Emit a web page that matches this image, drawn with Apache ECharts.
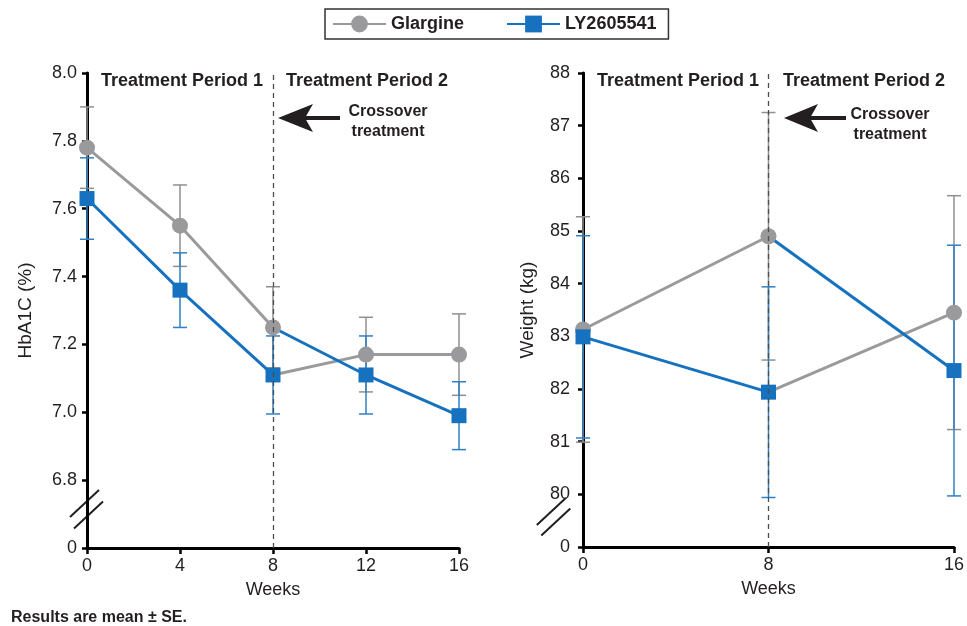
<!DOCTYPE html>
<html>
<head>
<meta charset="utf-8">
<script src="https://cdn.jsdelivr.net/npm/echarts@6/dist/echarts.min.js"></script>
<style>
html, body { margin: 0; padding: 0; background: #fff; }
#main { width: 967px; height: 626px; }
</style>
</head>
<body>
<div id="main"></div>
<script>
// ---------------------------------------------------------------
// data
// ---------------------------------------------------------------
var weeksHba = [0, 4, 8, 12, 16];
var glargineHba = [7.78, 7.55, 7.25, 7.17, 7.17];
var glargineHbaSE = [0.12, 0.12, 0.12, 0.11, 0.12];
var lyHba = [7.63, 7.36, 7.11, 7.11, 6.99];
var lyHbaSE = [0.12, 0.11, 0.115, 0.115, 0.10];
var crossHba = 2; // index of week 8

var weeksWt = [0, 8, 16];
var glargineWt = [83.13, 84.9, 83.45];
var glargineWtSE = [2.14, 2.35, 2.22];
var lyWt = [82.99, 81.94, 82.35];
var lyWtSE = [1.92, 2.0, 2.38];
var crossWt = 1;

// broken axes: the lowest tick stands for 0
var hbaAxis = { min: 6.6, max: 8.0, step: 0.2 };
var wtAxis = { min: 79, max: 88, step: 1 };

var GREY = '#9a9a9c';
var BLUE = '#1672be';
var INK = '#231f20';
var FONT = '"Liberation Sans", Arial, Helvetica, sans-serif';

// ---------------------------------------------------------------
// helpers
// ---------------------------------------------------------------
function period1(weeks, vals, end) {
	var out = [];
	for (var i = 0; i <= end; i++) out.push([weeks[i], vals[i]]);
	return out;
}
// period 2 starts from the other arm's week-8 value (crossover)
function period2(weeks, vals, otherVals, start) {
	var out = [{ value: [weeks[start], otherVals[start]], symbol: 'none' }];
	for (var i = start + 1; i < weeks.length; i++) out.push([weeks[i], vals[i]]);
	return out;
}
function errData(weeks, vals, se) {
	return weeks.map(function (w, i) { return [w, vals[i] - se[i], vals[i] + se[i]]; });
}
function errRender(color) {
	return function (params, api) {
		var x = api.value(0);
		var lo = api.coord([x, api.value(1)]);
		var hi = api.coord([x, api.value(2)]);
		var w = 7;
		var st = { stroke: color, lineWidth: 1.5 };
		return {
			type: 'group',
			children: [
				{ type: 'line', shape: { x1: lo[0], y1: lo[1], x2: hi[0], y2: hi[1] }, style: st },
				{ type: 'line', shape: { x1: lo[0] - w, y1: lo[1], x2: lo[0] + w, y2: lo[1] }, style: st },
				{ type: 'line', shape: { x1: hi[0] - w, y1: hi[1], x2: hi[0] + w, y2: hi[1] }, style: st }
			]
		};
	};
}
function yAxisOf(idx, ax, name, gap, margin, digits) {
	return {
		type: 'value', gridIndex: idx,
		min: ax.min, max: ax.max, interval: ax.step,
		name: name, nameLocation: 'middle', nameGap: gap, nameRotate: 90,
		nameTextStyle: { color: INK, fontSize: 19, fontFamily: FONT },
		axisLine: { show: true, lineStyle: { color: '#000', width: 3 } },
		axisTick: { show: true, inside: false, length: 5, lineStyle: { color: '#000', width: 2.5 } },
		splitLine: { show: false },
		axisLabel: {
			color: INK, fontSize: 18, fontFamily: FONT, margin: margin,
			formatter: function (v) {
				if (Math.abs(v - ax.min) < 1e-6) return '0';
				return v.toFixed(digits);
			}
		}
	};
}
function xAxisOf(idx, step) {
	return {
		type: 'value', gridIndex: idx, min: 0, max: 16, interval: step,
		name: 'Weeks', nameLocation: 'middle', nameGap: 33,
		nameTextStyle: { color: INK, fontSize: 18, fontFamily: FONT },
		axisLine: { show: true, onZero: false, lineStyle: { color: '#000', width: 3 } },
		axisTick: { show: true, length: 6, lineStyle: { color: '#000', width: 2.5 } },
		splitLine: { show: false },
		axisLabel: { color: INK, fontSize: 18, fontFamily: FONT, margin: 9 }
	};
}
function lineSeries(name, idx, data, color, symbol, size, z) {
	return {
		name: name, type: 'line', xAxisIndex: idx, yAxisIndex: idx,
		data: data, z: z,
		symbol: symbol, symbolSize: size, showSymbol: true,
		lineStyle: { color: color, width: 3 },
		itemStyle: { color: color, opacity: 1 },
		emphasis: { disabled: true },
		animation: false
	};
}
var crossLine = {
	silent: true, symbol: ['none', 'none'], label: { show: false },
	lineStyle: { type: [5, 4], color: '#4d4d4d', width: 1.3 },
	emphasis: { disabled: true },
	data: [{ xAxis: 8 }]
};

// ---------------------------------------------------------------
// chart
// ---------------------------------------------------------------
var myChart = echarts.init(document.getElementById('main'));

var series = [
	// period 1 (with markers, on top)
	lineSeries('Glargine', 0, period1(weeksHba, glargineHba, crossHba), GREY, 'circle', 16, 4),
	lineSeries('LY2605541', 0, period1(weeksHba, lyHba, crossHba), BLUE, 'rect', 15, 4),
	lineSeries('Glargine', 1, period1(weeksWt, glargineWt, crossWt), GREY, 'circle', 16, 4),
	lineSeries('LY2605541', 1, period1(weeksWt, lyWt, crossWt), BLUE, 'rect', 15, 4),
	// period 2 (after crossover)
	lineSeries('Glargine', 0, period2(weeksHba, glargineHba, lyHba, crossHba), GREY, 'circle', 16, 3),
	lineSeries('LY2605541', 0, period2(weeksHba, lyHba, glargineHba, crossHba), BLUE, 'rect', 15, 3),
	lineSeries('Glargine', 1, period2(weeksWt, glargineWt, lyWt, crossWt), GREY, 'circle', 16, 3),
	lineSeries('LY2605541', 1, period2(weeksWt, lyWt, glargineWt, crossWt), BLUE, 'rect', 15, 3)
];
series[4].markLine = crossLine;
series[6].markLine = crossLine;

// error bars (mean ± SE)
[[0, weeksHba, glargineHba, glargineHbaSE, '#8f8f8f'],
 [0, weeksHba, lyHba, lyHbaSE, '#2e80c6'],
 [1, weeksWt, glargineWt, glargineWtSE, '#8f8f8f'],
 [1, weeksWt, lyWt, lyWtSE, '#2e80c6']].forEach(function (e) {
	series.push({
		type: 'custom', xAxisIndex: e[0], yAxisIndex: e[0], z: 2,
		renderItem: errRender(e[4]),
		encode: { x: 0, y: [1, 2] },
		data: errData(e[1], e[2], e[3]),
		silent: true, animation: false
	});
});

var option = {
	backgroundColor: '#fff',
	animation: false,
	textStyle: { fontFamily: FONT },
	legend: {
		data: ['Glargine', 'LY2605541'],
		left: 325, top: 9,
		padding: [6, 12, 6, 7],
		itemWidth: 53, itemHeight: 21, itemGap: 42,
		borderColor: '#333', borderWidth: 1.5, backgroundColor: '#fff',
		selectedMode: false,
		textStyle: { color: INK, fontSize: 18, fontWeight: 'bold', fontFamily: FONT }
	},
	grid: [
		{ left: 87, top: 73, width: 372, height: 475 },
		{ left: 583, top: 73, width: 375, height: 474 }
	],
	xAxis: [xAxisOf(0, 4), xAxisOf(1, 8)],
	yAxis: [
		yAxisOf(0, hbaAxis, 'HbA1C (%)', 52, 10, 1),
		yAxisOf(1, wtAxis, 'Weight (kg)', 46, 13, 0)
	],
	series: series
};
myChart.setOption(option);

// ---------------------------------------------------------------
// annotations
// ---------------------------------------------------------------
function txt(x, y, s, size, align) {
	return {
		type: 'text', x: x, y: y, silent: true,
		style: {
			text: s, fill: INK, font: 'bold ' + size + 'px ' + FONT,
			align: align || 'left', verticalAlign: 'middle'
		}
	};
}
function arrow(tipX, y, backX, notchX, endX, halfH) {
	return [
		{ type: 'polygon', silent: true,
		  shape: { points: [[tipX, y], [backX, y - halfH], [notchX, y], [backX, y + halfH]] },
		  style: { fill: INK } },
		{ type: 'line', silent: true,
		  shape: { x1: notchX - 2, y1: y, x2: endX, y2: y },
		  style: { stroke: INK, lineWidth: 4 } }
	];
}
function slashes(p, offs) {
	var hx = 14.5, hy = 13.5;
	return offs.map(function (o) {
		var cx = p[0] + o[0], cy = p[1] + o[1];
		return { type: 'line', silent: true,
			shape: { x1: cx - hx, y1: cy + hy, x2: cx + hx, y2: cy - hy },
			style: { stroke: INK, lineWidth: 2 } };
	});
}

var pL = myChart.convertToPixel({ gridIndex: 0 }, [0, 6.715]);
var pR = myChart.convertToPixel({ gridIndex: 1 }, [0, 79.59]);

var graphics = [
	txt(101, 81, 'Treatment Period 1', 18),
	txt(286, 81, 'Treatment Period 2', 18),
	txt(597, 81, 'Treatment Period 1', 18),
	txt(783, 81, 'Treatment Period 2', 18),
	txt(388, 112, 'Crossover', 16, 'center'),
	txt(388, 132, 'treatment', 16, 'center'),
	txt(890, 115, 'Crossover', 16, 'center'),
	txt(890, 135, 'treatment', 16, 'center'),
	txt(11, 618, 'Results are mean \u00b1 SE.', 16)
];
graphics = graphics
	.concat(arrow(278, 118, 313, 305, 340, 14))
	.concat(arrow(784, 118, 818, 810, 846, 14))
	.concat(slashes(pL, [[-2.5, -5.5], [1.5, 6]]))
	.concat(slashes(pR, [[-31.7, -4.5], [-27.2, 6]]));

myChart.setOption({ graphic: graphics });
</script>
</body>
</html>
